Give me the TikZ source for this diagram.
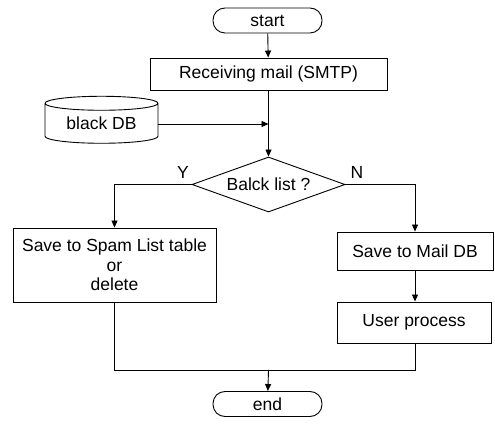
\documentclass[tikz,border=0pt]{standalone}
\usepackage{fontspec}
\setmainfont{Liberation Sans}
\usetikzlibrary{shapes.geometric,arrows.meta}
\begin{document}
\begin{tikzpicture}[x=1pt,y=-1pt,
  every node/.style={font=\fontsize{17.5}{19.5}\selectfont, inner sep=0pt, line width=0.9pt},
  term/.style={draw, rounded corners=12pt, minimum width=109pt, minimum height=25pt},
  proc/.style={draw, align=center},
  dec/.style={draw, diamond, minimum width=153pt, minimum height=55pt, aspect=2.8},
  db/.style={draw, cylinder, shape border rotate=90, aspect=0.2, minimum width=113pt, minimum height=47pt},
  conn/.style={line width=0.9pt},
  arr/.style={conn, -{Triangle[length=7pt,width=6pt]}}]
\useasboundingbox (0,0) rectangle (495,427);
\node[term] (start) at (267.5,20.5) {start};
\node[proc, minimum width=237pt, minimum height=32pt] (recv) at (268.5,74) {Receiving mail (SMTP)};
\node[db] (bdb) at (101.5,123.5) {black DB};
\node[dec] (bl) at (268.5,184.5) {Balck list ?};
\node[proc, minimum width=203pt, minimum height=74pt] (spam) at (114.5,265) {Save to Spam List table\\or\\delete};
\node[proc, minimum width=156pt, minimum height=38pt] (mdb) at (415,251) {Save to Mail DB};
\node[proc, minimum width=154pt, minimum height=41pt] (user) at (414,322.5) {User process};
\node[term] (end) at (267.5,404) {end};
\node (ylab) at (183,172) {Y};
\node (nlab) at (357,172) {N};
\coordinate (join) at (268.5,124);
\coordinate (merge) at (268.5,370);
\draw[arr] (start) -- (recv);
\draw[conn] (recv) -- (join);
\draw[arr] (join) -- (bl.north);
\draw[arr] (bdb.east |- join) -- (join);
\draw[arr] (bl.west) -| (spam.north);
\draw[arr] (bl.east) -| (mdb.north);
\draw[arr] (mdb.south) -- (mdb.south |- user.north);
\draw[conn] (spam.south) |- (merge);
\draw[conn] (mdb.south |- user.south) |- (merge);
\draw[arr] (merge) -- (end);
\end{tikzpicture}
\end{document}
